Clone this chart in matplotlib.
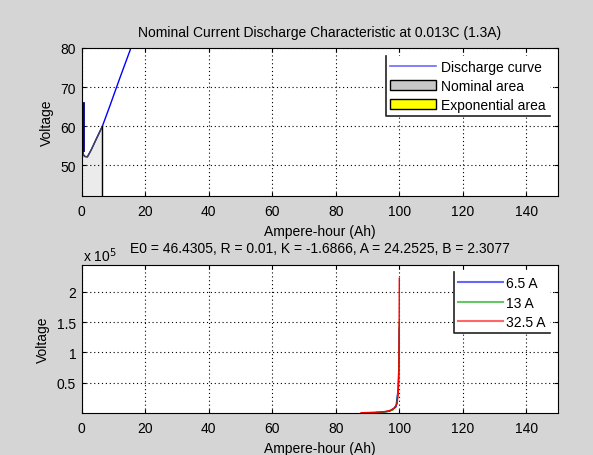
import matplotlib.pyplot as plt
from matplotlib.patches import Patch
from matplotlib.lines import Line2D

plt.rcParams['font.family'] = ['Liberation Sans', 'DejaVu Sans']
plt.rcParams['font.size'] = 10

BG = '#d5d5d5'

# Top panel: nominal discharge curve (Ah, V)
disch_ah = [0.0, 0.15, 0.3, 0.6, 1.0, 1.8, 3.0, 4.5, 6.5, 9.0, 12.0, 15.5]
disch_v = [66.0, 60.0, 54.0, 52.6, 52.3, 52.2, 54.0, 56.6, 60.0, 65.5, 72.3, 80.0]
expo_ah = [0.0, 0.15, 0.3]
expo_v = [66.0, 60.0, 54.0]
nom_ah = [0.3, 0.6, 1.0, 1.8, 3.0, 4.5, 6.5]
nom_v = [54.0, 52.6, 52.3, 52.2, 54.0, 56.6, 60.0]

# Bottom panel: discharge at three currents (Ah, V)
c65_ah = [90.0, 94.0, 97.0, 99.0, 99.7, 99.95, 100.02]
c65_v = [500, 1000, 3000, 10000, 40000, 90000, 140000]
c13_ah = [93.0, 96.0, 98.0, 99.3, 99.8, 100.0, 100.05]
c13_v = [1000, 2000, 5000, 15000, 50000, 110000, 150000]
c325_ah = [88.0, 92.0, 95.0, 97.0, 98.5, 99.3, 99.7, 99.9, 100.0, 100.05]
c325_v = [500, 1000, 2000, 4000, 8000, 15000, 30000, 70000, 150000, 222000]

TITLE1 = 'Nominal Current Discharge Characteristic at 0.013C (1.3A)'
TITLE2 = 'E0 = 46.4305, R = 0.01, K = -1.6866, A = 24.2525, B = 2.3077'


def style(ax):
    ax.set_facecolor('white')
    ax.set_xlim(0, 150)
    ax.set_xticks(range(0, 141, 20))
    ax.tick_params(direction='in', top=True, right=True, length=3, labelsize=10)
    ax.tick_params(axis='x', pad=6)
    ax.tick_params(axis='y', pad=4)
    ax.grid(True, linestyle=(0, (1, 2.5)), color='black', linewidth=0.8)
    for sp in ax.spines.values():
        sp.set_linewidth(0.8)
    ax.set_xlabel('Ampere-hour (Ah)', fontsize=10, labelpad=4)
    ax.set_ylabel('Voltage', fontsize=10, labelpad=5)


def half_frame(fig, leg):
    # MATLAB-style legend: only left and bottom edges show
    leg.get_frame().set_edgecolor('none')
    fig.canvas.draw()
    bb = leg.get_window_extent().transformed(fig.transFigure.inverted())
    fig.add_artist(Line2D([bb.x0, bb.x0, bb.x1], [bb.y1, bb.y0, bb.y0],
                          color='#222222', linewidth=1.2,
                          transform=fig.transFigure))


fig = plt.figure(figsize=(5.93, 4.56), dpi=100, facecolor=BG)

ax1 = fig.add_axes([0.1378, 0.568, 0.803, 0.3246])
style(ax1)
ax1.set_ylim(42.2, 80)
ax1.set_yticks([50, 60, 70, 80])
ax1.fill_between(nom_ah, 42.2, nom_v, color='#bdbdbd', alpha=0.3, linewidth=0)
ax1.fill_between(expo_ah, 42.2, expo_v, color='yellow', alpha=0.35, linewidth=0)
ax1.plot(disch_ah, disch_v, color='blue', linewidth=1)
ax1.plot(nom_ah, nom_v, color='#444444', linewidth=1)
ax1.plot([0.3, 0.3], [54, 66], color='#00008b', linewidth=2)
ax1.plot([6.5, 6.5], [42.2, 60], color='black', linewidth=1)
ax1.set_title(TITLE1, fontsize=10, pad=8.5)
h1 = [Line2D([], [], color='#6b6bff', linewidth=1.2),
      Patch(facecolor='#c8c8c8', edgecolor='black'),
      Patch(facecolor='yellow', edgecolor='black')]
leg1 = ax1.legend(h1, ['Discharge curve', 'Nominal area', 'Exponential area'],
                  loc='upper right', bbox_to_anchor=(0.983, 0.946),
                  borderaxespad=0, fancybox=False, framealpha=1, fontsize=10,
                  handlelength=3.3, handletextpad=0.35, labelspacing=0.35,
                  borderpad=0.3)

ax2 = fig.add_axes([0.1378, 0.0921, 0.803, 0.3246])
style(ax2)
ax2.set_ylim(0, 244000)
ax2.set_yticks([50000, 100000, 150000, 200000])
ax2.set_yticklabels(['0.5', '1', '1.5', '2'])
ax2.plot(c65_ah, c65_v, color='blue', linewidth=1, label='6.5 A')
ax2.plot(c13_ah, c13_v, color='#00a000', linewidth=1, label='13 A')
ax2.plot(c325_ah, c325_v, color='red', linewidth=1, label='32.5 A')
ax2.set_title(TITLE2, fontsize=10, pad=9.5)
ax2.text(0.003, 1.025, r'x 10$^{5}$', transform=ax2.transAxes, fontsize=10,
         ha='left', va='baseline')
leg2 = ax2.legend(loc='upper right', bbox_to_anchor=(0.983, 0.953),
                  borderaxespad=0, fancybox=False, framealpha=1, fontsize=10,
                  handlelength=3.2, handletextpad=0.25, labelspacing=0.4,
                  borderpad=0.3)
for ln in leg2.get_lines():
    ln.set_alpha(0.6)
    ln.set_linewidth(1.5)

half_frame(fig, leg1)
half_frame(fig, leg2)

fig.savefig('out.png', dpi=100, facecolor=BG)
